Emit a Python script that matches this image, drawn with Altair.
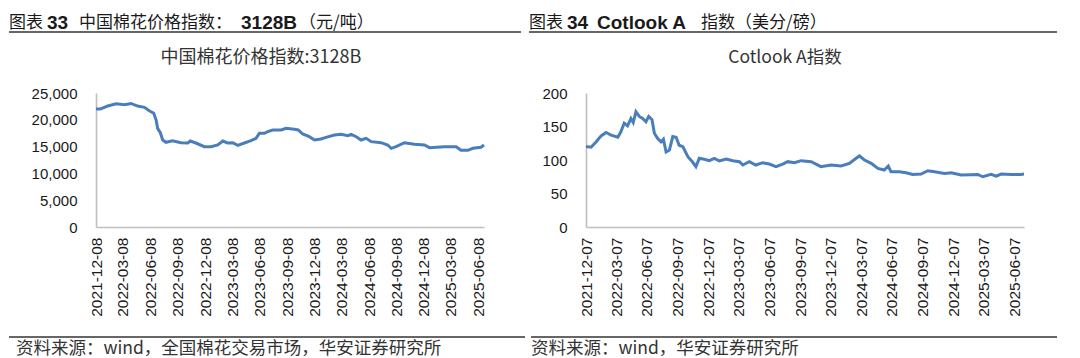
import altair as alt
import pandas as pd

# ---------------- data ----------------
cn_dates = ["2021-12-08", "2021-12-22", "2022-01-16", "2022-02-13", "2022-03-13", "2022-04-04", "2022-04-26",
            "2022-05-19", "2022-06-04", "2022-06-19", "2022-06-27", "2022-07-02", "2022-07-11", "2022-07-19",
            "2022-07-30", "2022-08-21", "2022-09-18", "2022-10-11", "2022-10-19", "2022-11-07", "2022-12-05",
            "2022-12-28", "2023-01-19", "2023-02-05", "2023-02-21", "2023-03-10", "2023-03-27", "2023-04-18",
            "2023-05-10", "2023-05-27", "2023-06-07", "2023-06-24", "2023-07-05", "2023-07-22", "2023-08-19",
            "2023-09-04", "2023-10-02", "2023-10-15", "2023-10-30", "2023-11-21", "2023-12-08", "2023-12-30",
            "2024-01-16", "2024-02-13", "2024-03-06", "2024-03-29", "2024-04-09", "2024-04-26", "2024-05-12",
            "2024-05-29", "2024-06-15", "2024-07-18", "2024-08-09", "2024-08-21", "2024-09-06", "2024-10-04",
            "2024-11-06", "2024-12-10", "2024-12-27", "2025-02-15", "2025-03-26", "2025-04-11", "2025-05-04",
            "2025-05-21", "2025-06-17", "2025-06-27"]
cn_values = [22000, 22000, 22570, 23000, 22830, 23050, 22570, 22330, 21700, 21210,
             19960, 18400, 17600, 16230, 15800, 16100, 15730, 15670, 16040, 15670,
             14980, 14980, 15300, 16040, 15670, 15730, 15240, 15670, 16100, 16540,
             17480, 17480, 17780, 18100, 18100, 18400, 18220, 18100, 17350, 16850,
             16230, 16420, 16730, 17160, 17290, 17040, 17290, 16850, 16230, 16540,
             15920, 15730, 15300, 14680, 14980, 15730, 15420, 15300, 14800, 14980,
             14980, 14310, 14310, 14680, 14870, 15300]

ct_dates = ["2021-12-07", "2021-12-22", "2022-01-06", "2022-01-21", "2022-02-05", "2022-02-20", "2022-03-12",
            "2022-03-21", "2022-03-31", "2022-04-10", "2022-04-20", "2022-04-27", "2022-05-05", "2022-05-15",
            "2022-05-25", "2022-06-04", "2022-06-12", "2022-06-22", "2022-06-29", "2022-07-09", "2022-07-19",
            "2022-07-26", "2022-08-03", "2022-08-13", "2022-08-23", "2022-09-02", "2022-09-11", "2022-09-22",
            "2022-10-07", "2022-10-21", "2022-10-31", "2022-11-10", "2022-11-25", "2022-12-10", "2022-12-25",
            "2023-01-09", "2023-01-29", "2023-02-18", "2023-03-10", "2023-03-20", "2023-04-08", "2023-04-28",
            "2023-05-18", "2023-06-07", "2023-06-27", "2023-07-17", "2023-08-01", "2023-08-21", "2023-09-10",
            "2023-10-10", "2023-11-08", "2023-12-08", "2024-01-07", "2024-02-01", "2024-02-21", "2024-03-02",
            "2024-03-17", "2024-04-06", "2024-04-26", "2024-05-15", "2024-05-27", "2024-06-04", "2024-06-29",
            "2024-07-19", "2024-08-08", "2024-09-02", "2024-09-22", "2024-10-12", "2024-11-11", "2024-12-01",
            "2024-12-30", "2025-01-29", "2025-02-18", "2025-03-05", "2025-03-30", "2025-04-14", "2025-04-29",
            "2025-05-29", "2025-06-27", "2025-07-06"]
ct_values = [120, 119, 127, 136, 141, 137, 134, 142, 155, 151,
             162, 156, 172, 165, 162, 157, 165, 160, 140, 132,
             127, 131, 112, 115, 135, 134, 122, 120, 105, 97,
             90, 102.5, 101, 99, 102.5, 98.5, 101.5, 99, 97.5, 92.5,
             97.5, 92.5, 96, 94, 90, 94, 97.5, 96, 99, 97.5,
             90, 92.5, 91, 95, 102.5, 106, 100, 95, 87.5, 85,
             91, 82.5, 82.5, 81, 78.5, 79, 84, 82.5, 80, 81,
             77.5, 78, 78.5, 75, 78.5, 76, 79, 78.5, 78.5, 79]

cn_ticks = ["2021-12-08", "2022-03-08", "2022-06-08", "2022-09-08", "2022-12-08", "2023-03-08", "2023-06-08",
            "2023-09-08", "2023-12-08", "2024-03-08", "2024-06-08", "2024-09-08", "2024-12-08", "2025-03-08",
            "2025-06-08"]
ct_ticks = ["2021-12-07", "2022-03-07", "2022-06-07", "2022-09-07", "2022-12-07", "2023-03-07", "2023-06-07",
            "2023-09-07", "2023-12-07", "2024-03-07", "2024-06-07", "2024-09-07", "2024-12-07", "2025-03-07",
            "2025-06-07"]
cn_yticks = [0, 5000, 10000, 15000, 20000, 25000]
ct_yticks = [0, 50, 100, 150, 200]

assert len(cn_dates) == len(cn_values) and len(ct_dates) == len(ct_values)

FONT_CJK = "Noto Sans CJK SC"
FONT_LAT = "Liberation Sans"
LINE = "#4A7EBB"
AXIS = "#BFBFBF"
TXT = "#1a1a1a"

one = pd.DataFrame({"k": [0]})


def ms(s):
    return int(pd.Timestamp(s, tz="UTC").value // 10**6)


def text(t, x, y, size, font=FONT_CJK, weight="normal", align="left", color=TXT):
    return alt.Chart(one).mark_text(text=t, align=align, baseline="middle", font=font, fontSize=size,
                                    fontWeight=weight, color=color).encode(x=alt.value(x), y=alt.value(y))


def rule(x1, x2, y, color="#333333", w=1.3, opacity=1.0):
    return alt.Chart(one).mark_rule(color=color, strokeWidth=w, strokeOpacity=opacity).encode(
        x=alt.value(x1), x2=alt.value(x2), y=alt.value(y))


def panel(dates, values, ticks, yticks, yfmt, d0, d1, W, H, extras):
    df = pd.DataFrame({"date": dates, "value": values})
    line = alt.Chart(df).mark_line(color=LINE, strokeWidth=3).encode(
        x=alt.X("date:T", title=None,
                scale=alt.Scale(type="utc", domain=[ms(d0), ms(d1)], nice=False),
                axis=alt.Axis(values=[ms(t) for t in ticks],
                              labelExpr="utcFormat(datum.value, '%Y-%m-%d')",
                              labelAngle=270, labelPadding=10, labelFontSize=15.5,
                              labelOverlap=False, labelFlush=False)),
        y=alt.Y("value:Q", title=None,
                scale=alt.Scale(domain=[yticks[0], yticks[-1]], nice=False),
                axis=alt.Axis(values=yticks, format=yfmt, labelPadding=19, labelFontSize=15)),
    )
    return alt.layer(line, *extras).properties(width=W, height=H)


HY = 22.5  # header text centre (page y)
HS = 17    # header CJK font size
HL = 19    # header latin font size

# left panel: plot origin at page (95, 93)
LX, TY = 95, 93
left_extras = [
    rule(8 - LX, 8 - LX + 6, 8 - TY, opacity=0.0, w=0.01),  # layout anchor
    rule(8 - LX, 520 - LX, 32 - TY),
    text("图表", 8 - LX, HY - TY, HS),
    text("33", 46 - LX, HY - TY, HL, FONT_LAT, "bold"),
    text("中国棉花价格指数：", 78 - LX, HY - TY, HS),
    text("3128B", 240 - LX, HY - TY, HL, FONT_LAT, "bold"),
    text("（元/吨）", 298 - LX, HY - TY, HS),
    text("中国棉花价格指数:3128B", 260 - LX, 58 - TY, 18, align="center", color="#333333"),
    rule(8 - LX, 524 - LX, 337 - TY),
    text("资料来源：wind，全国棉花交易市场，华安证券研究所", 15 - LX, 349 - TY, 17.5, color="#333333"),
]

# right panel: plot origin at page (585, 93)
RX = 585
right_extras = [
    rule(528 - RX, 1056 - RX, 32 - TY),
    text("图表", 528 - RX, HY - TY, HS),
    text("34", 566 - RX, HY - TY, HL, FONT_LAT, "bold"),
    text("Cotlook A", 596 - RX, HY - TY, HL, FONT_LAT, "bold"),
    text("指数（美分/磅）", 700 - RX, HY - TY, HS),
    text("Cotlook A指数", 784 - RX, 58 - TY, 17.5, align="center", color="#333333"),
    rule(530 - RX, 1056 - RX, 337 - TY),
    text("资料来源：wind，华安证券研究所", 530 - RX, 349 - TY, 17.5, color="#333333"),
]

left = panel(cn_dates, cn_values, cn_ticks, cn_yticks, ",d", "2021-12-08", "2025-06-27", 388, 134, left_extras)
right = panel(ct_dates, ct_values, ct_ticks, ct_yticks, "d", "2021-12-07", "2025-07-06", 438, 134, right_extras)

chart = alt.hconcat(left, right, spacing=102, bounds="flush").properties(
    padding=0, background="white"
).configure_view(strokeWidth=0).configure_axis(
    grid=False, ticks=False, domainColor=AXIS, domainWidth=1.6,
    labelFont=FONT_LAT, labelColor=TXT
)

chart.save("out.html", embed_options={"renderer": "svg", "actions": False})
